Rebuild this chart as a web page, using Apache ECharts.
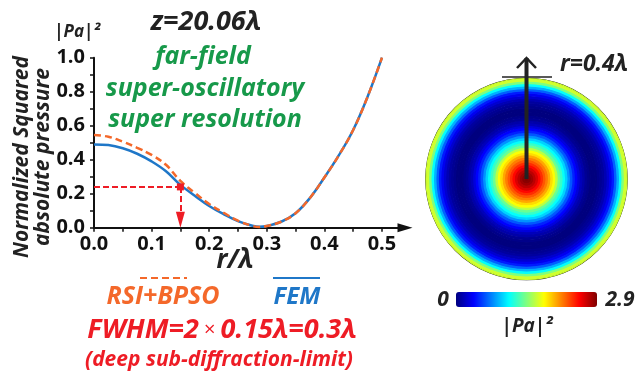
<!DOCTYPE html>
<html><head><meta charset="utf-8">
<script src="https://cdn.jsdelivr.net/npm/echarts@6/dist/echarts.min.js"></script>
<style>html,body{margin:0;padding:0;background:#fff}#c{width:636px;height:374px}</style>
</head><body><div id="c"></div>
<script>
// ---- line plot data (r in units of lambda) ----
const rVals   = [0,0.025,0.05,0.075,0.1,0.125,0.15,0.175,0.2,0.225,0.25,0.275,0.2875,0.3,0.325,0.35,0.375,0.4,0.425,0.45,0.475,0.5];
const femVals = [0.490,0.486,0.467,0.435,0.390,0.332,0.252,0.188,0.128,0.080,0.039,0.011,0.005,0.010,0.035,0.085,0.175,0.295,0.425,0.575,0.770,1.000];
const rsiVals = [0.545,0.535,0.506,0.470,0.428,0.370,0.275,0.205,0.139,0.088,0.041,0.011,0.004,0.010,0.035,0.085,0.175,0.295,0.425,0.575,0.770,1.000];
const xTickVals  = [0,0.05,0.1,0.15,0.2,0.25,0.3,0.35,0.4,0.45,0.5];
const xLabelVals = [0,0.1,0.2,0.3,0.4,0.5];
const yTickVals  = [0,0.1,0.2,0.3,0.4,0.5,0.6,0.7,0.8,0.9,1.0];
const yLabelVals = [0,0.2,0.4,0.6,0.8,1.0];
const fwhmR = 0.15, fwhmV = 0.24;
// ---- disk (|Pa|^2 vs radius, 0..0.4 lambda) ----
const diskR = [0,0.01,0.02,0.03,0.04,0.05,0.06,0.07,0.08,0.09,0.10,0.11,0.12,0.13,0.14,0.15,0.16,0.17,0.18,0.19,0.20,0.21,0.22,0.23,0.24,0.25,0.26,0.27,0.28,0.29,0.30,0.31,0.32,0.33,0.34,0.35,0.36,0.37,0.38,0.39,0.40];
const diskI = [2.90,2.87,2.81,2.73,2.64,2.52,2.41,2.29,2.18,2.06,1.91,1.80,1.62,1.39,1.25,1.10,0.96,0.78,0.61,0.46,0.36,0.26,0.17,0.12,0.06,0.03,0.0,0.0,0.0,0.03,0.06,0.09,0.15,0.23,0.32,0.44,0.64,0.87,1.10,1.45,1.68];
const cbMin = 0, cbMax = 2.9;
const jet = ['#00007f','#0000ff','#007fff','#00ffff','#7fff7f','#ffff00','#ff7f00','#ff0000','#7f0000'];

const F = '"Open Sans", "DejaVu Sans", sans-serif';
const BLUE = '#1f77c8', ORANGE = '#f4682a', RED = '#ee1c25', GREEN = '#17994a', DARK = '#222';

const chart = echarts.init(document.getElementById('c'), null, {renderer: 'canvas'});
chart.setOption({
  animation: false,
  backgroundColor: '#fff',
  grid: {left: 94, top: 57.7, width: 311, height: 170, containLabel: false},
  xAxis: {
    type: 'value', min: 0, max: 0.54,
    axisLine: {show: true, lineStyle: {color: '#111', width: 2}, symbol: ['none', 'triangle'], symbolSize: [9, 15], symbolOffset: [0, 0]},
    axisTick: {show: true, inside: false, length: 4, lineStyle: {color: '#111', width: 1.5}, customValues: xTickVals},
    axisLabel: {customValues: xLabelVals, formatter: v => v.toFixed(1), color: '#111', fontFamily: F, fontWeight: 'bold', fontSize: 20, margin: 7},
    splitLine: {show: false}
  },
  yAxis: {
    type: 'value', min: 0, max: 1,
    axisLine: {show: true, lineStyle: {color: '#111', width: 2}},
    axisTick: {show: true, inside: false, length: 4, lineStyle: {color: '#111', width: 1.5}, customValues: yTickVals},
    axisLabel: {customValues: yLabelVals, formatter: v => v.toFixed(1), color: '#111', fontFamily: F, fontWeight: 'bold', fontSize: 20, margin: 9},
    splitLine: {show: false}
  },
  polar: {center: [526.5, 179], radius: [0, 100.5]},
  angleAxis: {
    type: 'value', min: 0, max: 360, startAngle: 90,
    axisLine: {show: true, lineStyle: {color: '#111', width: 1.6}},
    axisTick: {show: false}, axisLabel: {show: false}, splitLine: {show: false}
  },
  radiusAxis: {
    type: 'category', data: diskR.map(String),
    axisLine: {show: false}, axisTick: {show: false}, axisLabel: {show: false}, splitLine: {show: false}
  },
  visualMap: {
    type: 'continuous', seriesIndex: 2, dimension: 2,
    min: cbMin, max: cbMax, orient: 'horizontal', calculable: false,
    left: 456, top: 292, itemWidth: 15, itemHeight: 141, padding: 0,
    text: null, showLabel: false,
    inRange: {color: jet}
  },
  series: [
    {
      name: 'FEM', type: 'line', smooth: 0.4, symbol: 'none', z: 3,
      data: rVals.map((r, i) => [r, femVals[i]]),
      lineStyle: {color: BLUE, width: 2.5},
      markLine: {
        silent: true, symbol: ['none', 'none'], animation: false,
        lineStyle: {color: RED, width: 2, type: [6, 3]},
        label: {show: false},
        data: [
          [{coord: [0, fwhmV]}, {coord: [fwhmR, fwhmV]}],
          [{coord: [fwhmR, fwhmV]}, {coord: [fwhmR, 0.047], symbol: 'triangle', symbolSize: [9, 16], symbolRotate: 180}]
        ]
      },
      markPoint: {
        silent: true, symbol: 'rect', symbolSize: 7, itemStyle: {color: RED}, label: {show: false},
        data: [{coord: [fwhmR, fwhmV]}]
      }
    },
    {
      name: 'RSI+BPSO', type: 'line', smooth: 0.4, symbol: 'none', z: 4,
      data: rVals.map((r, i) => [r, rsiVals[i]]),
      lineStyle: {color: ORANGE, width: 2.5, type: [7, 4]}
    },
    {
      name: 'disk', type: 'bar', coordinateSystem: 'polar', barCategoryGap: '0%',
      encode: {radius: 0, angle: 1},
      data: diskI.map((v, i) => ({
        value: [i, 360, v],
        itemStyle: {borderWidth: 1.2, borderColor: echarts.color.lerp((v - cbMin) / (cbMax - cbMin), jet)}
      }))
    }
  ],
  graphic: [
    {type: 'text', x: 77, y: 32, style: {text: '|Pa|²', align: 'center', verticalAlign: 'middle', font: 'italic bold 17px ' + F, fill: DARK}},
    {type: 'text', x: 206, y: 22, style: {text: 'z=20.06λ', align: 'center', verticalAlign: 'middle', font: 'italic bold 27px ' + F, fill: DARK}},
    {type: 'text', x: 203, y: 57, style: {text: 'far-field', align: 'center', verticalAlign: 'middle', font: 'italic bold 25px ' + F, fill: GREEN}},
    {type: 'text', x: 205, y: 89, style: {text: 'super-oscillatory', align: 'center', verticalAlign: 'middle', font: 'italic bold 25px ' + F, fill: GREEN}},
    {type: 'text', x: 205, y: 120, style: {text: 'super resolution', align: 'center', verticalAlign: 'middle', font: 'italic bold 25px ' + F, fill: GREEN}},
    {type: 'text', x: 33, y: 157, rotation: Math.PI / 2, style: {text: 'Normalized Squared\nabsolute pressure', align: 'center', verticalAlign: 'middle', lineHeight: 21, font: 'italic bold 21px ' + F, fill: DARK}},
    {type: 'text', x: 235, y: 261, style: {text: 'r/λ', align: 'center', verticalAlign: 'middle', font: 'italic bold 26px ' + F, fill: DARK}},
    {type: 'line', shape: {x1: 140, y1: 278, x2: 187, y2: 278}, style: {stroke: ORANGE, lineWidth: 2, lineDash: [7, 4]}},
    {type: 'text', x: 163, y: 297, style: {text: 'RSI+BPSO', align: 'center', verticalAlign: 'middle', font: 'italic bold 25px ' + F, fill: ORANGE}},
    {type: 'line', shape: {x1: 273, y1: 278, x2: 320, y2: 278}, style: {stroke: BLUE, lineWidth: 2}},
    {type: 'text', x: 297, y: 297, style: {text: 'FEM', align: 'center', verticalAlign: 'middle', font: 'italic bold 24px ' + F, fill: BLUE}},
    {type: 'text', x: 222, y: 330, style: {text: '{a|FWHM=2}{b| × }{a|0.15λ=0.3λ}', align: 'center', verticalAlign: 'middle',
      rich: {a: {font: 'italic bold 27px ' + F, fill: RED}, b: {font: '20px ' + F, fill: RED}}}},
    {type: 'text', x: 219, y: 360, style: {text: '(deep sub-diffraction-limit)', align: 'center', verticalAlign: 'middle', font: 'italic bold 21px ' + F, fill: RED}},
    // disk annotation
    {type: 'line', shape: {x1: 502, y1: 77, x2: 552, y2: 77}, style: {stroke: DARK, lineWidth: 1.5}, z: 100},
    {type: 'line', shape: {x1: 526.5, y1: 179, x2: 526.5, y2: 58}, style: {stroke: DARK, lineWidth: 4}, z: 100},
    {type: 'polyline', shape: {points: [[517, 68], [526.5, 58], [536, 68]]}, style: {stroke: DARK, lineWidth: 2.5, fill: null}, z: 100},
    {type: 'text', x: 594, y: 64, style: {text: 'r=0.4λ', align: 'center', verticalAlign: 'middle', font: 'italic bold 23px ' + F, fill: DARK}},
    {type: 'text', x: 443, y: 300, style: {text: String(cbMin), align: 'center', verticalAlign: 'middle', font: 'italic bold 21px ' + F, fill: DARK}},
    {type: 'text', x: 620, y: 300, style: {text: String(cbMax), align: 'center', verticalAlign: 'middle', font: 'italic bold 21px ' + F, fill: DARK}},
    {type: 'text', x: 527, y: 327, style: {text: '|Pa|²', align: 'center', verticalAlign: 'middle', font: 'italic bold 19px ' + F, fill: DARK}}
  ]
});
</script>
</body></html>
